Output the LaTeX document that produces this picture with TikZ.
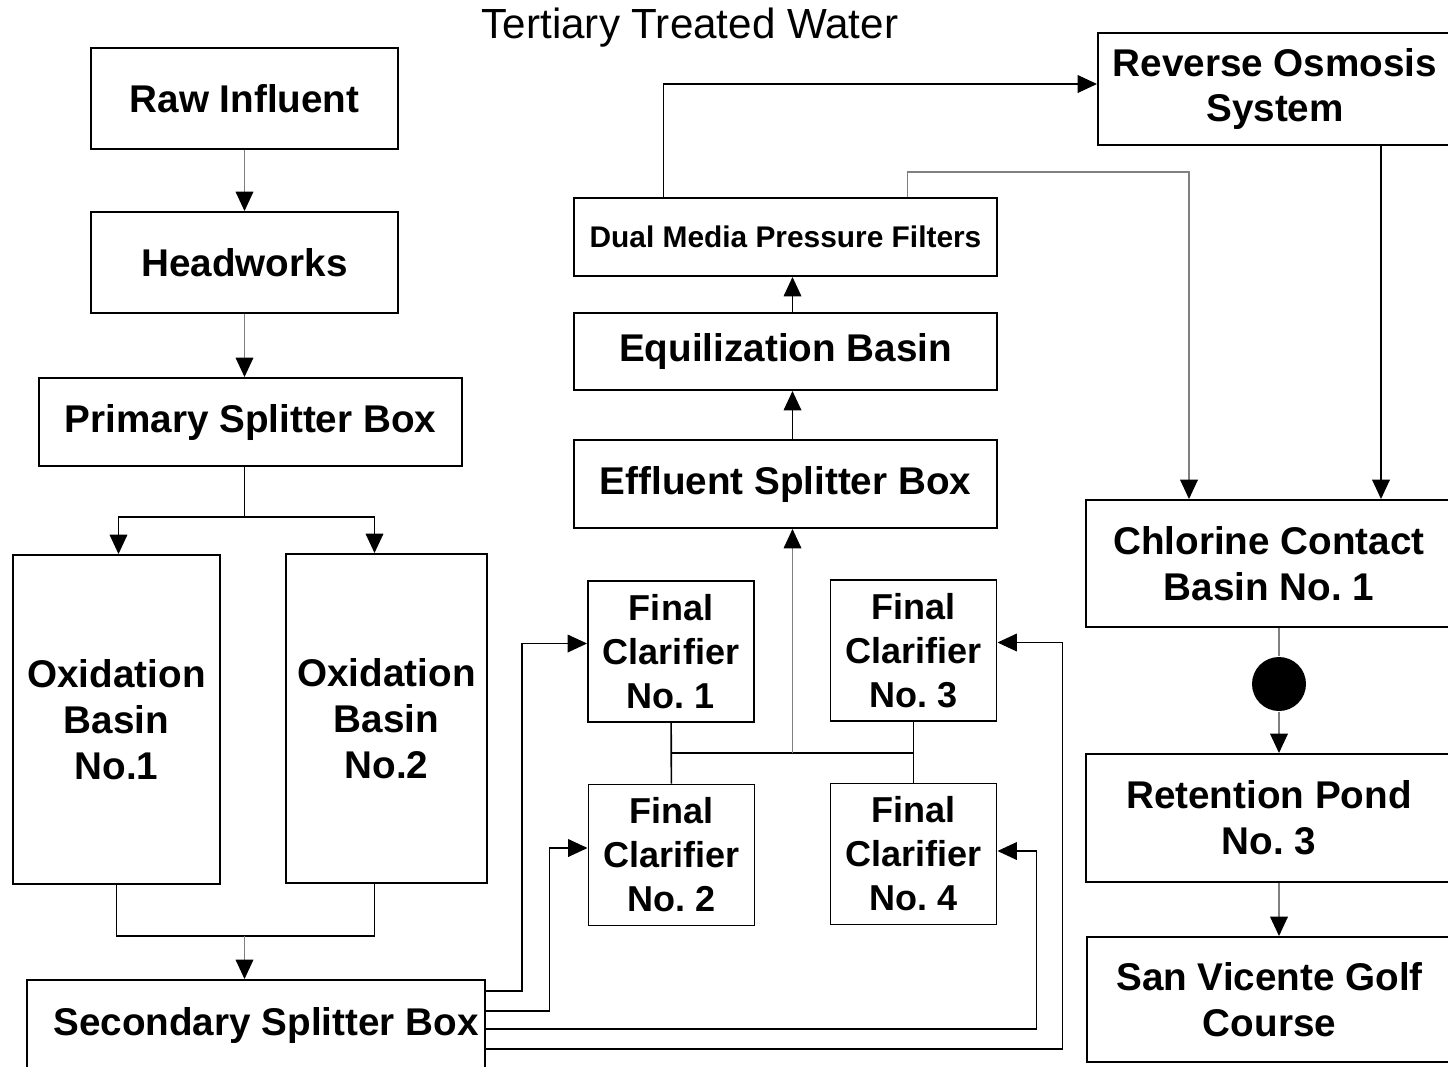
\documentclass[tikz,border=0pt]{standalone}
\usepackage{fontspec}
\setmainfont{Liberation Sans}
\usepackage{tikz}
\usetikzlibrary{positioning,%
  arrows.meta,%
  calc%
}
\newcommand{\pxu}{0.02cm}

\begin{document}
\frenchspacing
\begin{tikzpicture}
            [x=\pxu, y=-\pxu, line width=0.9pt,
            box/.style 2 args={draw, line width=1.1pt, fill=white, align=center, inner sep=1pt,
                minimum width=#1*\pxu, minimum height=#2*\pxu,
                font=\fontsize{22}{26}\selectfont\bfseries},
            flow/.style={-{Triangle[length=11pt,width=10pt,color=black]}},
            faint/.style={draw=black!50}]
            
            \useasboundingbox (0,0) rectangle (1448,1066);
            
            \node (title) at (690,28) {\fontsize{24}{28}\selectfont Tertiary Treated Water};
            
            \node[box={307}{101}] (raw) at (244.5,98.5) {Raw Influent};
            \node[box={307}{101}] (head) at (244.5,262.5) {Headworks};
            \node[box={423}{88}] (primsplit) at (250.5,422) {Primary Splitter Box};
            \node[box={207}{329}] (oxone) at (116.5,719.5) {Oxidation\\Basin\\No.1};
            \node[box={201}{329}] (oxtwo) at (386.5,718.5) {Oxidation\\Basin\\No.2};
            \node[box={458}{90}] (secsplit) at (256,1025) {\hspace*{0.4cm}Secondary Splitter Box};
            
            \node[box={423}{78}, font=\fontsize{17}{20}\selectfont\bfseries] (dual) at (785.5,237) {Dual Media Pressure Filters};
            \node[box={423}{77}] (equal) at (785.5,351.5) {Equilization Basin};
            \node[box={423}{88}] (effsplit) at (785.5,484) {Effluent Splitter Box};
            \foreach \fc/\x/\y/\n in {fcone/671/651.5/1, fcthree/913.5/650.5/3, fctwo/671.5/855/2, fcfour/913.5/854/4} {
                \node[box={166}{141}, font=\fontsize{20.5}{25}\selectfont\bfseries] (\fc) at (\x,\y) {Final\\Clarifier\\No. \n};
            }
            
            \node[box={354}{112}] (ro) at (1275,89) {Reverse Osmosis\\System};
            \node[box={366}{127}] (chlor) at (1269,563.5) {Chlorine Contact\\Basin No. 1};
            \node[circle, fill=black, minimum size=54*\pxu, inner sep=0pt] (dot) at (1279,684) {};
            \node[box={366}{128}] (reten) at (1269,818) {Retention Pond\\No. 3};
            \node[box={365}{125}] (golf) at (1269.5,999.5) {San Vicente Golf\\Course};
            
            \draw[flow, faint] (raw) -- (head);
            \draw[flow, faint] (head) -- (primsplit.north -| head.south);
            \draw (primsplit.south -| head.south) -- ++(0,50) coordinate (psj);
            \draw[flow] (psj) -| ([xshift=2*\pxu]oxone.north);
            \draw[flow] (psj) -| ([xshift=-12*\pxu]oxtwo.north);
            \draw (oxone.south) -- ++(0,51) coordinate (oxj) -| ([xshift=-12*\pxu]oxtwo.south);
            \draw[flow, faint] (oxj -| head.south) -- (secsplit.north -| head.south);
            
            \foreach \dy/\dx/\fc/\anc/\up in {12/-65/fcone/west/8, 32/-38/fctwo/west/7, 50/39/fcfour/east/3, 70/65/fcthree/east/8} {
                \draw[flow] ([yshift=-\dy*\pxu]secsplit.north east) -| ([xshift=\dx*\pxu, yshift=\up*\pxu]\fc.\anc) -- ([yshift=\up*\pxu]\fc.\anc);
            }
            
            \draw (fcone) -- (fctwo);
            \draw (fcthree) -- (fcfour);
            \coordinate (fcj) at ($(fcone.south)!0.5!(fctwo.north)$);
            \draw (fcj) -- (fcj -| fcthree.south);
            \draw[flow, faint] ([xshift=7*\pxu]fcj -| effsplit.south) -- ([xshift=7*\pxu]effsplit.south);
            \draw[flow] ([xshift=7*\pxu]effsplit.north) -- ([xshift=7*\pxu]equal.south);
            \draw[flow] ([xshift=7*\pxu]equal.north) -- ([xshift=7*\pxu]dual.south);
            
            \draw[flow] ([xshift=-122*\pxu]dual.north) |- ([yshift=5*\pxu]ro.west);
            \draw[flow, faint] ([xshift=122*\pxu]dual.north) -- ++(0,-25) -| ([xshift=-80*\pxu]chlor.north);
            \draw[flow] ([xshift=106*\pxu]ro.south) -- ([xshift=112*\pxu]chlor.north);
            
            \draw[faint] (chlor.south -| dot) -- (dot);
            \draw[flow, faint] (dot) -- (reten.north -| dot);
            \draw[flow, faint] (reten.south -| dot) -- (golf.north -| dot);
        \end{tikzpicture}
\end{document}
